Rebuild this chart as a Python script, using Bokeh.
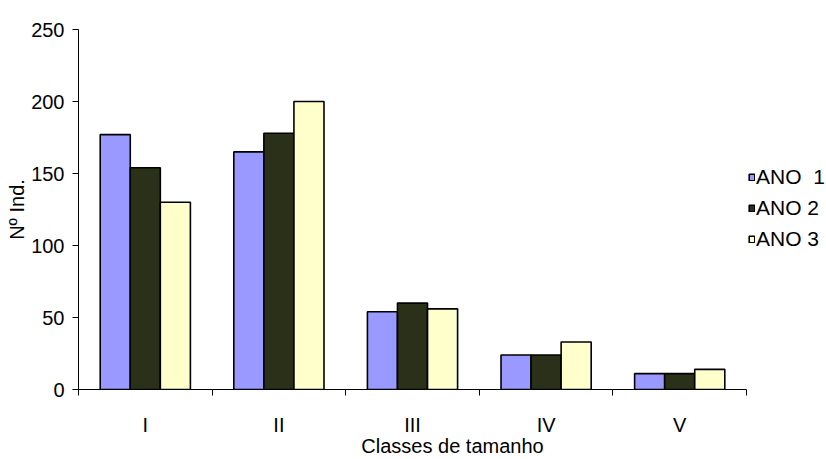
from bokeh.plotting import figure
from bokeh.models import (ColumnDataSource, Range1d, FixedTicker, Legend, LegendItem)
from bokeh.embed import file_html
from bokeh.resources import INLINE

categories = ["I", "II", "III", "IV", "V"]
ano1 = [177, 165, 54, 24, 11]
ano2 = [154, 178, 60, 24, 11]
ano3 = [130, 200, 56, 33, 14]
series_names = ["ANO  1", "ANO 2", "ANO 3"]
series_colors = ["#9999FF", "#2B3119", "#FFFFCC"]
y_ticks = [0, 50, 100, 150, 200, 250]

FONT = "Liberation Sans"
W, H = 826, 459
LEFT, TOP, BOTTOM = 78, 29, 70
AXIS_RIGHT = 746  # where the category axis ends (px)

n = len(categories)
frame_w = W - LEFT
x_end = n * frame_w / (AXIS_RIGHT - LEFT)  # extra room on the right for the legend

p = figure(width=W, height=H, output_backend="svg", toolbar_location=None,
           x_range=Range1d(0, x_end), y_range=Range1d(0, 250),
           min_border_left=LEFT, min_border_right=0, min_border_top=TOP, min_border_bottom=BOTTOM)
p.outline_line_color = None
p.grid.grid_line_color = None
p.background_fill_color = "white"
p.border_fill_color = "white"

centers = [i + 0.5 for i in range(n)]
bw = 0.225
renderers = []
for k, (vals, col) in enumerate(zip([ano1, ano2, ano3], series_colors)):
    src = ColumnDataSource(dict(x=[c + (k - 1) * bw for c in centers], top=vals))
    r = p.vbar(x="x", top="top", width=bw, bottom=0, source=src,
               fill_color=col, line_color="black", line_width=1.6)
    renderers.append(r)

# x axis
xa = p.xaxis[0]
xa.bounds = (0, n)
xa.ticker = FixedTicker(ticks=centers, minor_ticks=list(range(n + 1)))
xa.major_label_overrides = {c: lab for c, lab in zip(centers, categories)}
xa.major_tick_out = 0
xa.major_tick_in = 0
xa.minor_tick_out = 6
xa.minor_tick_in = 0
xa.minor_tick_line_color = "black"
xa.major_label_standoff = 18
xa.major_label_text_font = FONT
xa.major_label_text_font_size = "20px"
xa.major_label_text_color = "black"
xa.axis_line_color = "black"
xa.axis_label = "Classes de tamanho"
xa.axis_label_standoff = -4
xa.axis_label_text_font = FONT
xa.axis_label_text_font_style = "normal"
xa.axis_label_text_font_size = "20px"
xa.axis_label_text_color = "black"

# y axis
ya = p.yaxis[0]
ya.ticker = FixedTicker(ticks=y_ticks)
ya.minor_tick_line_color = None
ya.major_tick_out = 6
ya.major_tick_in = 0
ya.major_label_standoff = 8
ya.major_label_text_font = FONT
ya.major_label_text_font_size = "20px"
ya.major_label_text_color = "black"
ya.axis_line_color = "black"
ya.axis_label = "Nº Ind."
ya.axis_label_standoff = 0
ya.axis_label_text_font = FONT
ya.axis_label_text_font_style = "normal"
ya.axis_label_text_font_size = "20px"
ya.axis_label_text_color = "black"

legend = Legend(items=[LegendItem(label=nm, renderers=[r]) for nm, r in zip(series_names, renderers)],
                location=(AXIS_RIGHT + 2 - LEFT, 138), orientation="vertical",
                glyph_width=7, glyph_height=8, label_standoff=1, spacing=7, label_height=24,
                padding=0, margin=0, border_line_color=None, background_fill_alpha=0,
                label_text_font=FONT, label_text_font_size="21px", label_text_color="black")
p.add_layout(legend)

open("out.html", "w").write(file_html(p, INLINE))
